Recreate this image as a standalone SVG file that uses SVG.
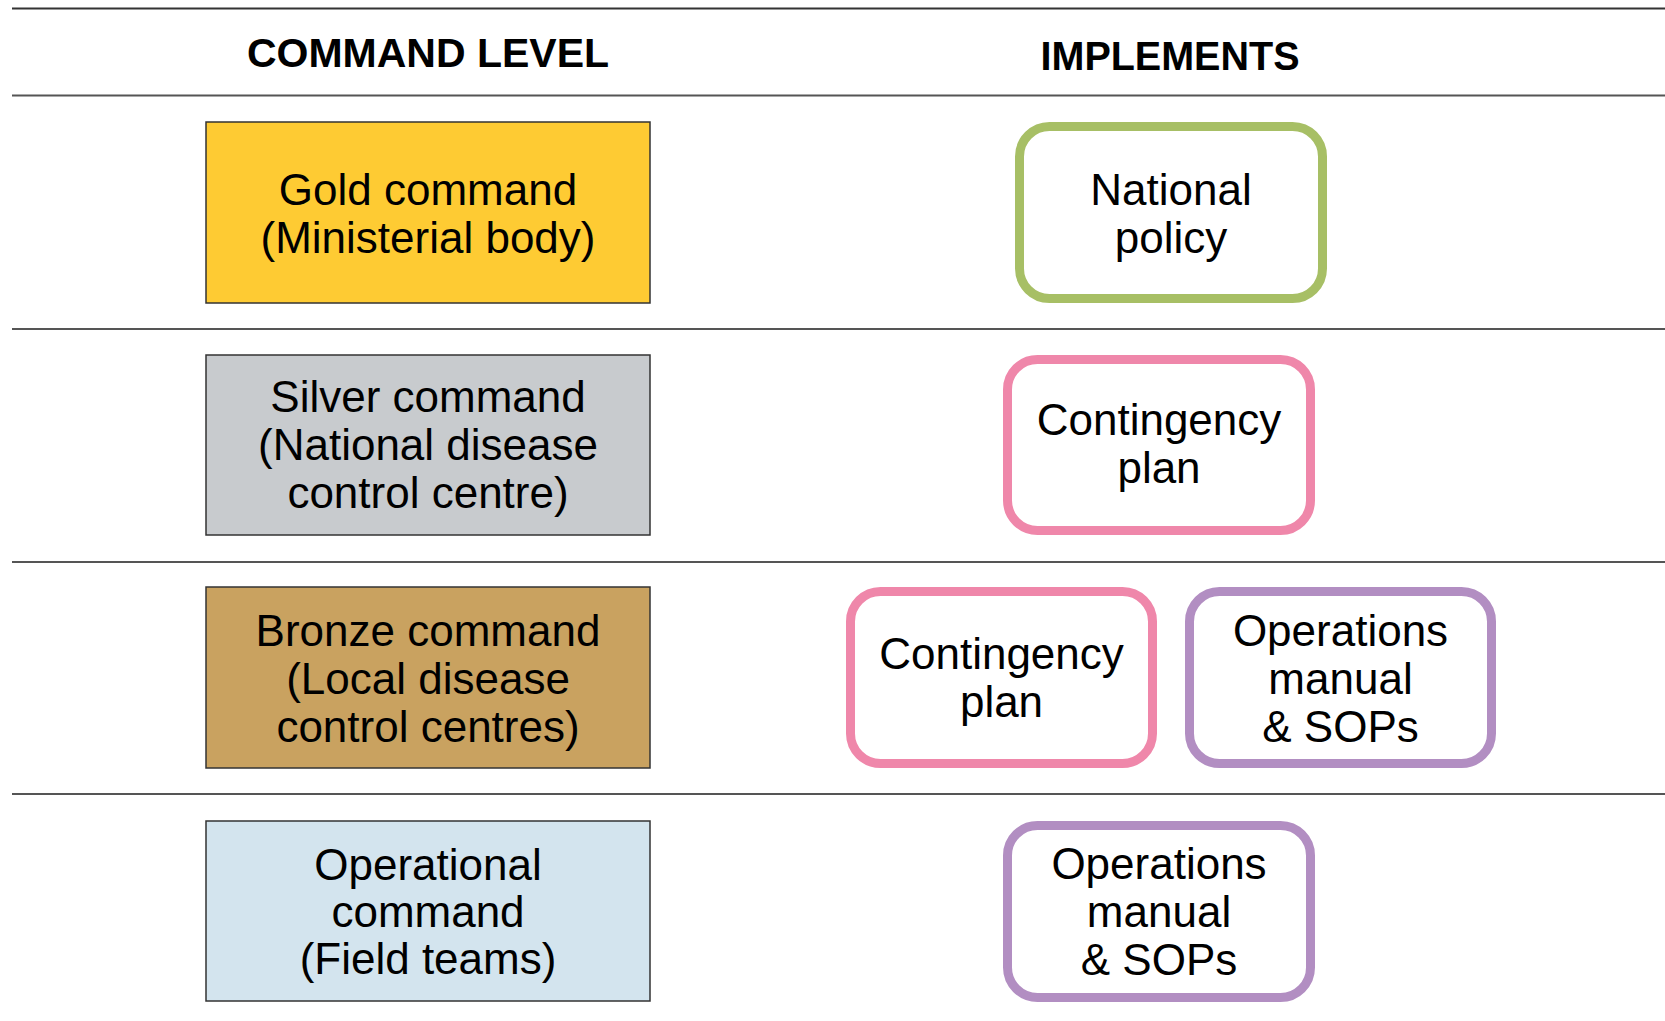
<svg xmlns="http://www.w3.org/2000/svg" width="1665" height="1021" viewBox="0 0 1665 1021">
<style>
.hdr{font-family:"Liberation Sans",Arial,sans-serif;font-weight:bold;font-size:41px;fill:#000;text-anchor:middle}
.t{font-family:"Liberation Sans",Arial,sans-serif;font-size:44px;fill:#000;text-anchor:middle}
.sep{stroke:#555;stroke-width:2;fill:none}
.cmd{stroke:#333;stroke-width:1.5}
.impl{fill:#fff;stroke-width:9}
</style>
<rect width="1665" height="1021" fill="#fff"/>
<g id="rules">
<line class="sep" x1="12" y1="8.5" x2="1665" y2="8.5" style="stroke:#333"/>
<line class="sep" x1="12" y1="95.5" x2="1665" y2="95.5"/>
<line class="sep" x1="12" y1="329" x2="1665" y2="329"/>
<line class="sep" x1="12" y1="562" x2="1665" y2="562"/>
<line class="sep" x1="12" y1="794" x2="1665" y2="794"/>
</g>
<g id="headers">
<text class="hdr" x="428" y="66.5">COMMAND LEVEL</text>
<text class="hdr" x="1170" y="70" textLength="259" lengthAdjust="spacingAndGlyphs">IMPLEMENTS</text>
</g>
<g id="connectors"></g>
<g id="gold">
<rect class="cmd" x="206" y="122" width="444" height="181" fill="#FECB33"/>
<text class="t" x="428" y="205">Gold command</text>
<text class="t" x="428" y="253">(Ministerial body)</text>
</g>
<g id="silver">
<rect class="cmd" x="206" y="355" width="444" height="180" fill="#C8CBCE"/>
<text class="t" x="428" y="412">Silver command</text>
<text class="t" x="428" y="460">(National disease</text>
<text class="t" x="428" y="508">control centre)</text>
</g>
<g id="bronze">
<rect class="cmd" x="206" y="587" width="444" height="181" fill="#C9A260"/>
<text class="t" x="428" y="646">Bronze command</text>
<text class="t" x="428" y="694">(Local disease</text>
<text class="t" x="428" y="742">control centres)</text>
</g>
<g id="operational">
<rect class="cmd" x="206" y="821" width="444" height="180" fill="#D3E4EE"/>
<text class="t" x="428" y="880">Operational</text>
<text class="t" x="428" y="927">command</text>
<text class="t" x="428" y="974">(Field teams)</text>
</g>
<g id="national-policy">
<rect class="impl" x="1019.5" y="126.5" width="303" height="172" rx="30" stroke="#A7BF65"/>
<text class="t" x="1171" y="205">National</text>
<text class="t" x="1171" y="253">policy</text>
</g>
<g id="contingency-plan-1">
<rect class="impl" x="1007.5" y="359.5" width="303" height="171" rx="30" stroke="#EF87AA"/>
<text class="t" x="1159" y="435">Contingency</text>
<text class="t" x="1159" y="483">plan</text>
</g>
<g id="contingency-plan-2">
<rect class="impl" x="850.5" y="591.5" width="302" height="172" rx="30" stroke="#EF87AA"/>
<text class="t" x="1001.5" y="669">Contingency</text>
<text class="t" x="1001.5" y="717">plan</text>
</g>
<g id="operations-manual-1">
<rect class="impl" x="1189.5" y="591.5" width="302" height="172" rx="30" stroke="#B28EC2"/>
<text class="t" x="1340.5" y="646">Operations</text>
<text class="t" x="1340.5" y="694">manual</text>
<text class="t" x="1340.5" y="742">&amp; SOPs</text>
</g>
<g id="operations-manual-2">
<rect class="impl" x="1007.5" y="825.5" width="303" height="172" rx="30" stroke="#B28EC2"/>
<text class="t" x="1159" y="879">Operations</text>
<text class="t" x="1159" y="927">manual</text>
<text class="t" x="1159" y="975">&amp; SOPs</text>
</g>
</svg>
